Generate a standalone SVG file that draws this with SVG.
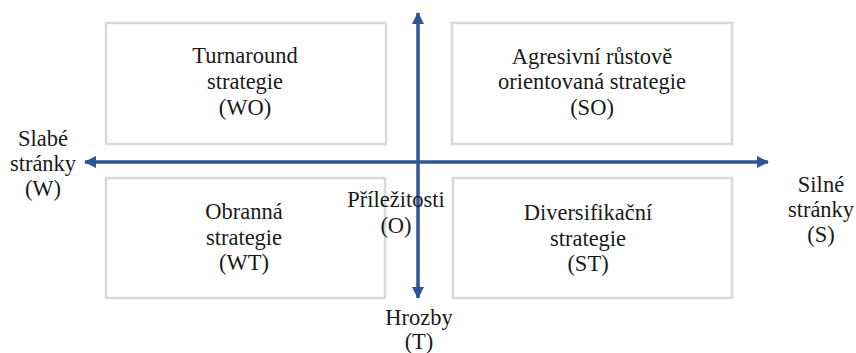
<svg xmlns="http://www.w3.org/2000/svg" width="856" height="353" viewBox="0 0 856 353">
<style>
.box{fill:#fff;stroke:#d9d9d9;stroke-width:2.5}
.t{font-size:22.5px;fill:#1a1a1a;text-anchor:middle}
.ax{stroke:#2f5597;stroke-width:3;fill:none}
</style>
<defs>
<marker id="ah" viewBox="0 0 12 12" refX="11" refY="6" markerWidth="12" markerHeight="12" markerUnits="userSpaceOnUse" orient="auto">
<path d="M0,0 L12,6 L0,12 Z" fill="#2f5597"/>
</marker>
</defs>
<g font-family="Liberation Serif, Times New Roman, serif">
<g id="wo"><rect class="box" x="106" y="23" width="280" height="121"/>
<text class="t" x="245" y="63">Turnaround</text><text class="t" x="245" y="89">strategie</text><text class="t" x="245" y="115">(WO)</text></g>
<g id="so"><rect class="box" x="452" y="23" width="280" height="121"/>
<text class="t" x="592" y="64">Agresivní růstově</text><text class="t" x="592" y="89">orientovaná strategie</text><text class="t" x="592" y="115">(SO)</text></g>
<g id="wt"><rect class="box" x="106" y="178" width="279" height="120"/>
<text class="t" x="244" y="219">Obranná</text><text class="t" x="244" y="245">strategie</text><text class="t" x="244" y="270">(WT)</text></g>
<g id="st"><rect class="box" x="453" y="178" width="279" height="120"/>
<text class="t" x="588" y="220">Diversifikační</text><text class="t" x="588" y="246">strategie</text><text class="t" x="588" y="271">(ST)</text></g>
<g id="connectors">
<line class="ax" x1="418" y1="298" x2="418" y2="13" marker-end="url(#ah)"/>
<line class="ax" x1="418" y1="13" x2="418" y2="298" marker-end="url(#ah)"/>
<line class="ax" x1="768" y1="162" x2="85" y2="162" marker-end="url(#ah)"/>
<line class="ax" x1="85" y1="162" x2="768" y2="162" marker-end="url(#ah)"/>
</g>
<g id="w"><text class="t" x="43" y="146">Slabé</text><text class="t" x="43" y="171">stránky</text><text class="t" x="43" y="196">(W)</text></g>
<g id="s"><text class="t" x="821" y="192">Silné</text><text class="t" x="821" y="217">stránky</text><text class="t" x="821" y="242">(S)</text></g>
<g id="o"><text class="t" x="396" y="207">Příležitosti</text><text class="t" x="396" y="233">(O)</text></g>
<g id="t"><text class="t" x="419" y="325">Hrozby</text><text class="t" x="419" y="349">(T)</text></g>
</g>
</svg>
